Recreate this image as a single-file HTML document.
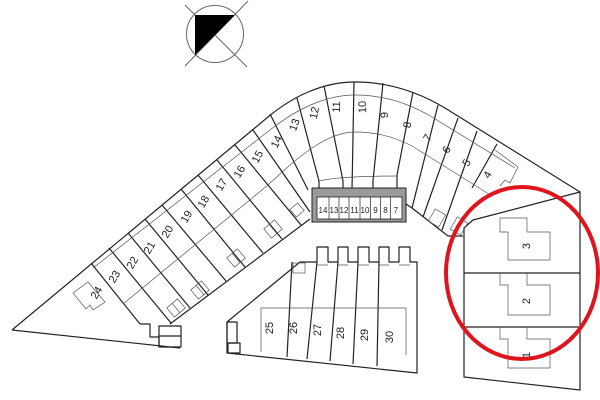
<!DOCTYPE html>
<html><head><meta charset="utf-8"><style>
html,body{margin:0;padding:0;background:#fff;}
svg{display:block;}
text{font-family:"Liberation Sans",sans-serif;font-size:11px;fill:#222;}
.t{font-size:8px;}
</style></head><body>
<svg width="600" height="400" viewBox="0 0 600 400" xmlns="http://www.w3.org/2000/svg">
<circle cx="215" cy="34" r="28.5" fill="none" stroke="#666" stroke-width="1"/>
<line x1="185" y1="5" x2="247" y2="67" stroke="#666" stroke-width="1"/>
<line x1="248" y1="1" x2="185" y2="66" stroke="#666" stroke-width="1"/>
<polygon points="195,15 235,15 195,55" fill="#000"/>

<g fill="none" stroke="#222" stroke-width="1.2" stroke-linejoin="round">
<path d="M12,330 L268,117 C292,97 322,82 355,82 C390,82 420,93 445,108 L580,192"/>
<path d="M12,330 L180,348"/>
<path d="M140,324 L150,324 L150,337 L159,337 L159,347"/>
<rect x="159" y="326" width="22" height="21"/>
<line x1="159" y1="336" x2="181" y2="336"/>
<path d="M170,324 L310,219"/>
<path d="M91,263 L140,324"/>
<path d="M109,248 L171,323"/>
<path d="M128,233 L190,308"/>
<path d="M145,219 L208,295"/>
<path d="M162,205 L226,281"/>
<path d="M181,189 L245,267"/>
<path d="M198,175 L263,253"/>
<path d="M217,160 L282,239"/>
<path d="M235,145 L301,225"/>
<path d="M253,130 L310,212"/>
<path d="M270,114 L308,190"/>
<path d="M297,98 L319,181 L319,190"/>
<path d="M324,86 L343,181 L343,190"/>
<path d="M354,82 L352,190"/>
<path d="M383,83 L373,181 L373,190"/>
<path d="M413,92 L397,175 L397,190"/>
<path d="M438,105 L412,208"/>
<path d="M458,118 L423,217"/>
<path d="M477,131 L442,230"/>
<path d="M497,144 L472,188"/>
<path d="M406,204 L412,208 L448,236 L463,236"/>
<path d="M580,192 L473,220 L464,228 L464,377 L580,390 Z"/>
<line x1="464" y1="273" x2="580" y2="273"/>
<line x1="464" y1="327" x2="580" y2="327"/>
<path d="M227,353 L227,322 L300,262 L317,262 L317,247 L328,247 L328,262 L338,262 L338,247 L348,247 L348,262 L358,262 L358,247 L369,247 L369,262 L379,262 L379,247 L389,247 L389,262 L399,262 L399,247 L410,247 L410,262 L417,262 L417,373 Z"/>
<path d="M292,262 L287,357"/>
<path d="M317,262 L307,359"/>
<path d="M338,262 L330,361"/>
<path d="M358,262 L353,364"/>
<path d="M379,262 L377,366"/>
<rect x="227" y="322" width="10" height="21"/>
<rect x="228" y="343" width="12" height="10"/>
</g>

<g fill="none" stroke="#555" stroke-width="0.7">
<path d="M93,268 L270,130 C295,110 325,95 355,95 C385,95 410,104 432,117 L515,168"/>
<path d="M123,304 L268,185 C295,160 325,132 355,132 C375,132 395,137 412,146 L492,196"/>
<path d="M319,181 C335,177 370,176 397,176"/>
<path d="M317,265 H328 M338,265 H348 M358,265 H369 M379,265 H389 M399,265 H410"/>
<rect x="293" y="263" width="12" height="10"/>
<path d="M261,308 H406 V355 M261,308 V352"/>
<path d="M500,218 H527 V232 H550 V260 H508 V232 H500 Z"/>
<path d="M500,273 V285 H508 V315 H550 V285 H527 V273"/>
<path d="M500,327 V339 H508 V368 H550 V339 H527 V327"/>
<path d="M73,293 L88,282 L105,302 L93,310 L90,305 L86,309 Z"/>
<path d="M495,150 L518,167 L510,183 L505,180 L500,186"/>
<g transform="translate(176,308) rotate(-40)"><rect x="-7" y="-6" width="14" height="12"/><line x1="0" y1="-6" x2="0" y2="6"/></g>
<g transform="translate(200,290) rotate(-40)"><rect x="-7" y="-6" width="14" height="12"/><line x1="0" y1="-6" x2="0" y2="6"/></g>
<g transform="translate(236,258) rotate(-40)"><rect x="-7" y="-6" width="14" height="12"/><line x1="0" y1="-6" x2="0" y2="6"/></g>
<g transform="translate(273,229) rotate(-40)"><rect x="-7" y="-6" width="14" height="12"/><line x1="0" y1="-6" x2="0" y2="6"/></g>
<g transform="translate(297,210) rotate(-40)"><rect x="-5" y="-5" width="10" height="10"/></g>
<g transform="translate(437,218) rotate(-60)"><rect x="-7" y="-6" width="14" height="12"/></g>
<g transform="translate(459,226) rotate(-60)"><rect x="-7" y="-6" width="14" height="12"/></g>
</g>

<rect x="312" y="188" width="94" height="34" fill="#9a9a9a" stroke="#222" stroke-width="1"/>
<rect x="317" y="197" width="85" height="22" fill="#fff" stroke="#222" stroke-width="0.8"/>
<g stroke="#222" stroke-width="0.7">
<line x1="329" y1="197" x2="329" y2="219"/><line x1="339" y1="197" x2="339" y2="219"/>
<line x1="349" y1="197" x2="349" y2="219"/><line x1="360" y1="197" x2="360" y2="219"/>
<line x1="370.5" y1="197" x2="370.5" y2="219"/><line x1="380.5" y1="197" x2="380.5" y2="219"/>
<line x1="390.5" y1="197" x2="390.5" y2="219"/>
</g>
<g class="t" text-anchor="middle">
<text class="t" x="323" y="213">14</text><text class="t" x="334" y="213">13</text>
<text class="t" x="344" y="213">12</text><text class="t" x="354.5" y="213">11</text>
<text class="t" x="365" y="213">10</text><text class="t" x="375.5" y="213">9</text>
<text class="t" x="385.5" y="213">8</text><text class="t" x="396" y="213">7</text>
</g>

<g text-anchor="middle" dominant-baseline="central">
<text transform="translate(97,293) rotate(-60)">24</text>
<text transform="translate(115,277) rotate(-60)">23</text>
<text transform="translate(133,263) rotate(-60)">22</text>
<text transform="translate(150,248) rotate(-60)">21</text>
<text transform="translate(168,232) rotate(-60)">20</text>
<text transform="translate(187,217) rotate(-60)">19</text>
<text transform="translate(204,202) rotate(-60)">18</text>
<text transform="translate(222,185) rotate(-60)">17</text>
<text transform="translate(240,172) rotate(-60)">16</text>
<text transform="translate(258,157) rotate(-62)">15</text>
<text transform="translate(277,142) rotate(-65)">14</text>
<text transform="translate(295,125) rotate(-70)">13</text>
<text transform="translate(315,113) rotate(-78)">12</text>
<text transform="translate(337,107) rotate(-88)">11</text>
<text transform="translate(363,107) rotate(-92)">10</text>
<text transform="translate(385,115) rotate(-90)">9</text>
<text transform="translate(408,125) rotate(-80)">8</text>
<text transform="translate(428,138) rotate(-60)">7</text>
<text transform="translate(447,150) rotate(-60)">6</text>
<text transform="translate(467,163) rotate(-60)">5</text>
<text transform="translate(488,175) rotate(-60)">4</text>
<text transform="translate(527,246) rotate(-90)">3</text>
<text transform="translate(527,301) rotate(-90)">2</text>
<text transform="translate(527,355) rotate(-90)">1</text>
<text transform="translate(270,328) rotate(-90)">25</text>
<text transform="translate(294,328) rotate(-90)">26</text>
<text transform="translate(318,330) rotate(-90)">27</text>
<text transform="translate(341,333) rotate(-90)">28</text>
<text transform="translate(365,335) rotate(-90)">29</text>
<text transform="translate(390,337) rotate(-90)">30</text>
</g>

<ellipse cx="522" cy="273" rx="76" ry="86" fill="none" stroke="#e0141c" stroke-width="4"/>
</svg>
</body></html>
